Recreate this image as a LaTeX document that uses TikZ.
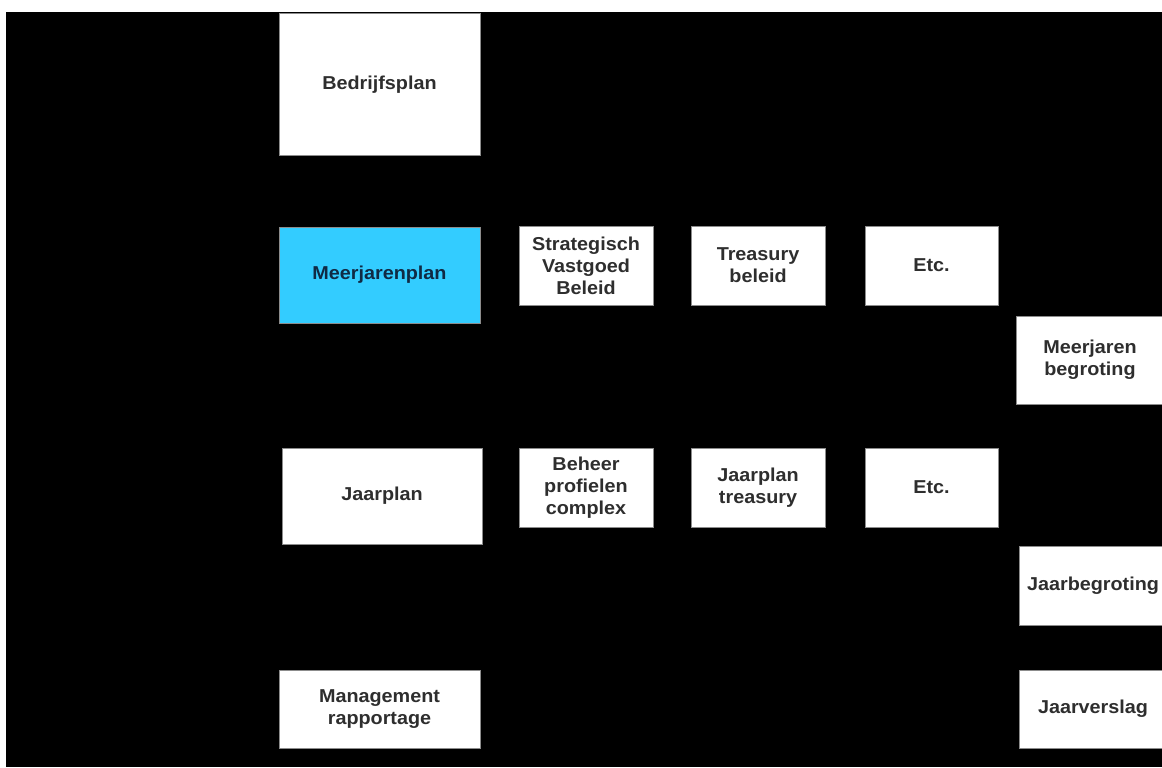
\documentclass[tikz,border=0pt]{standalone}
\usepackage{fontspec}
\setmainfont{Liberation Sans}[FakeStretch=1.06]
\definecolor{boxline}{HTML}{8C8C8C}
\definecolor{boxtext}{HTML}{2E2E2E}
\definecolor{planblue}{HTML}{33CCFF}
\definecolor{plantext}{HTML}{102A44}
\begin{document}
\begin{tikzpicture}[x=0.75pt,y=-0.75pt,
  box/.style={draw=boxline,line width=0.75pt,fill=white,text=boxtext,align=center,
    font=\bfseries\fontsize{14}{16.5}\selectfont,inner sep=0pt},
  big/.style={box,minimum width=150.75pt},
  small/.style={box,minimum width=100.5pt,minimum height=59.25pt},
  side/.style={box,minimum width=110pt}]
\fill[white] (0,0) rectangle (1162,767);
\fill[black] (6,12) rectangle (1162,767);
\clip (0,0) rectangle (1162,767);
\useasboundingbox (0,0) rectangle (1162,767);
\node (bedrijfsplan) [big,minimum height=105.75pt] at (379.5,84.5) {Bedrijfsplan};
\node (meerjarenplan) [big,minimum height=72pt,fill=planblue,text=plantext] at (379.5,275) {Meerjarenplan};
\node (strategisch) [small] at (586,265.5) {Strategisch\\Vastgoed\\Beleid};
\node (treasury) [small] at (758,265.5) {Treasury\\beleid};
\node (etcboven) [small,minimum width=99.75pt] at (931.5,265.5) {Etc.};
\node (mjbegroting) [side,minimum height=66pt] at (1090,360) {Meerjaren\\begroting};
\node (jaarplan) [big,minimum width=150pt,minimum height=72pt] at (382,496) {Jaarplan};
\node (beheer) [small] at (586,487.5) {Beheer\\profielen\\complex};
\node (jptreasury) [small] at (758,487.5) {Jaarplan\\treasury};
\node (etconder) [small,minimum width=99.75pt] at (931.5,487.5) {Etc.};
\node (jaarbegroting) [side,minimum height=59.25pt] at (1093,585.5) {Jaarbegroting};
\node (rapportage) [big,minimum height=58.5pt] at (379.5,709) {Management\\rapportage};
\node (jaarverslag) [side,minimum height=58.5pt] at (1093,709) {Jaarverslag};
\end{tikzpicture}
\end{document}
